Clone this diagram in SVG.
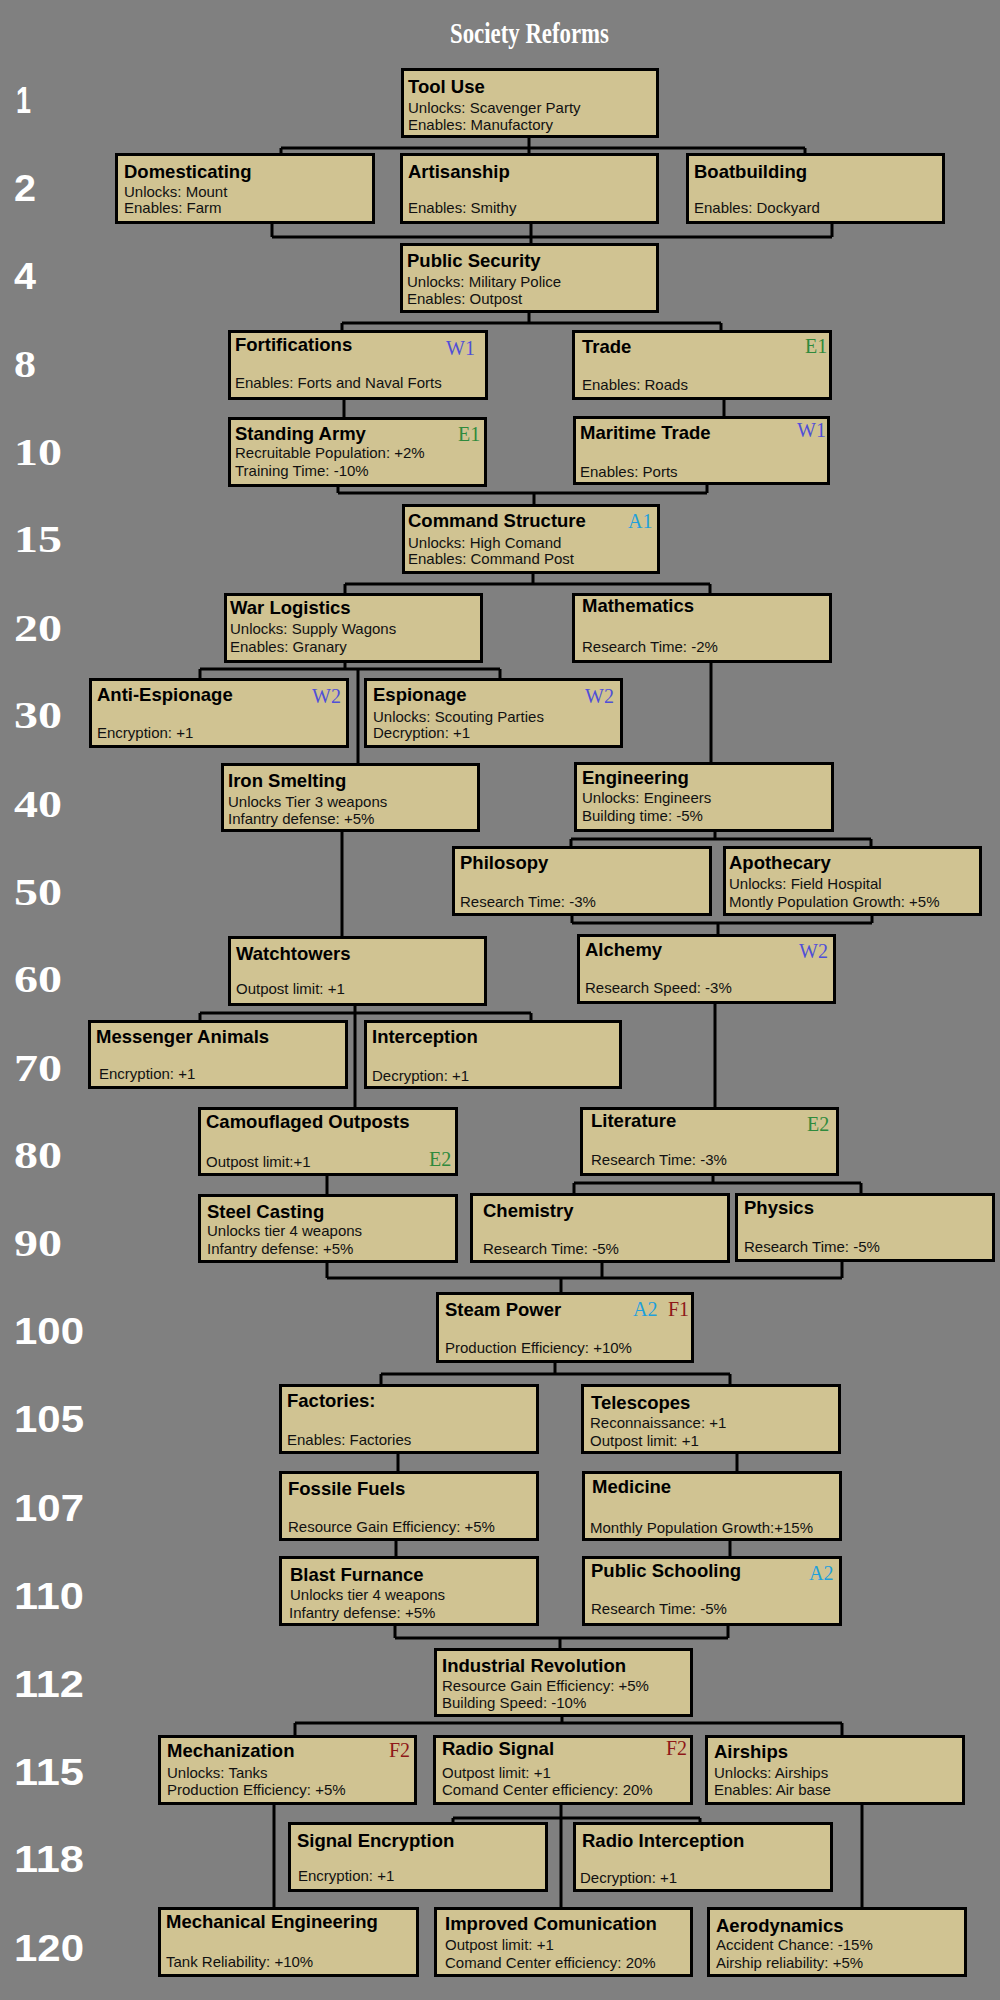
<svg xmlns="http://www.w3.org/2000/svg" width="1000" height="2000" viewBox="0 0 1000 2000">
<style>
.bg{fill:#808080}
.box{fill:#D0C392;stroke:#000;stroke-width:3}
.c{fill:none;stroke:#000;stroke-width:3}
.t{font-family:"Liberation Sans",Arial,sans-serif;font-weight:bold;font-size:18.5px;fill:#000}
.s{font-family:"Liberation Sans",Arial,sans-serif;font-size:15px;fill:#111}
.tag{font-family:"Liberation Serif","Times New Roman",serif;font-size:20px}
.w{fill:#4F4FD8}.e{fill:#2F8A3C}.a{fill:#1FA0DC}.f{fill:#8E1818}
.nS{font-family:"Liberation Serif",serif;font-weight:bold;font-size:37px;fill:#fff}
.nA{font-family:"Liberation Sans",sans-serif;font-weight:bold;font-size:36px;fill:#fff}
.title{font-family:"Liberation Serif",serif;font-weight:bold;font-size:30px;fill:#fff}
</style>
<rect class="bg" x="0" y="0" width="1000" height="2000"/>
<text class="title" x="450" y="43" textLength="159" lengthAdjust="spacingAndGlyphs">Society Reforms</text>
<g id="levels">
<text class="nA" x="16" y="113" textLength="15" lengthAdjust="spacingAndGlyphs">1</text>
<text class="nA" x="14" y="201" textLength="22" lengthAdjust="spacingAndGlyphs">2</text>
<text class="nA" x="14" y="289" textLength="22" lengthAdjust="spacingAndGlyphs">4</text>
<text class="nS" x="14" y="377" textLength="22" lengthAdjust="spacingAndGlyphs">8</text>
<text class="nS" x="14" y="465" textLength="48" lengthAdjust="spacingAndGlyphs">10</text>
<text class="nS" x="14" y="552" textLength="48" lengthAdjust="spacingAndGlyphs">15</text>
<text class="nS" x="14" y="641" textLength="48" lengthAdjust="spacingAndGlyphs">20</text>
<text class="nS" x="14" y="728" textLength="48" lengthAdjust="spacingAndGlyphs">30</text>
<text class="nS" x="14" y="817" textLength="48" lengthAdjust="spacingAndGlyphs">40</text>
<text class="nS" x="14" y="905" textLength="48" lengthAdjust="spacingAndGlyphs">50</text>
<text class="nS" x="14" y="992" textLength="48" lengthAdjust="spacingAndGlyphs">60</text>
<text class="nS" x="14" y="1081" textLength="48" lengthAdjust="spacingAndGlyphs">70</text>
<text class="nS" x="14" y="1168" textLength="48" lengthAdjust="spacingAndGlyphs">80</text>
<text class="nS" x="14" y="1256" textLength="48" lengthAdjust="spacingAndGlyphs">90</text>
<text class="nA" x="14" y="1344" textLength="70" lengthAdjust="spacingAndGlyphs">100</text>
<text class="nA" x="14" y="1432" textLength="70" lengthAdjust="spacingAndGlyphs">105</text>
<text class="nA" x="14" y="1521" textLength="70" lengthAdjust="spacingAndGlyphs">107</text>
<text class="nA" x="14" y="1609" textLength="70" lengthAdjust="spacingAndGlyphs">110</text>
<text class="nA" x="14" y="1697" textLength="70" lengthAdjust="spacingAndGlyphs">112</text>
<text class="nA" x="14" y="1785" textLength="70" lengthAdjust="spacingAndGlyphs">115</text>
<text class="nA" x="14" y="1872" textLength="70" lengthAdjust="spacingAndGlyphs">118</text>
<text class="nA" x="14" y="1961" textLength="70" lengthAdjust="spacingAndGlyphs">120</text>
</g>
<g id="connectors">
<path class="c" d="M529,138V153M281,148H805M281,148V153M805,148V153"/>
<path class="c" d="M272,224V237M832,224V237M272,237H832M531,224V243"/>
<path class="c" d="M529,313V323M342,323H721M342,323V330M721,323V330"/>
<path class="c" d="M344,400V417M724,400V417"/>
<path class="c" d="M338,487V493M707,485V493M338,493H707M534,493V504"/>
<path class="c" d="M533,574V584M345,584H710M345,584V593M710,584V593"/>
<path class="c" d="M345,663V669M200,669H500M200,669V678M500,669V678M358,669V763"/>
<path class="c" d="M711,663V762"/>
<path class="c" d="M342,832V936"/>
<path class="c" d="M715,832V839M571,839H871M571,839V846M871,839V846"/>
<path class="c" d="M572,916V923M872,916V923M572,923H872M718,923V934"/>
<path class="c" d="M355,1006V1107M200,1013H531M200,1013V1020M531,1013V1020"/>
<path class="c" d="M715,1004V1107"/>
<path class="c" d="M327,1176V1194"/>
<path class="c" d="M713,1176V1183M574,1183H861M574,1183V1193M861,1183V1193"/>
<path class="c" d="M327,1263V1278M602,1263V1278M842,1262V1278M327,1278H842M561,1278V1292"/>
<path class="c" d="M555,1363V1374M381,1374H730M381,1374V1384M730,1374V1384"/>
<path class="c" d="M398,1454V1471M737,1454V1471"/>
<path class="c" d="M396,1541V1556M730,1541V1556"/>
<path class="c" d="M395,1626V1638M728,1626V1638M395,1638H728M560,1638V1648"/>
<path class="c" d="M562,1717V1723M295,1723H842M295,1723V1735M842,1723V1735"/>
<path class="c" d="M274,1805V1907"/>
<path class="c" d="M561,1805V1907M453,1818H700M453,1818V1822M700,1818V1822"/>
<path class="c" d="M862,1805V1907"/>
</g>
<g id="tooluse"><rect class="box" x="402.5" y="69.5" width="255" height="67"/>
<text class="t" x="408" y="93">Tool Use</text><text class="s" x="408" y="113">Unlocks: Scavenger Party</text><text class="s" x="408" y="129.5">Enables: Manufactory</text></g>
<g id="domesticating"><rect class="box" x="116.5" y="154.5" width="257" height="68"/>
<text class="t" x="124" y="178">Domesticating</text><text class="s" x="124" y="197">Unlocks: Mount</text><text class="s" x="124" y="213">Enables: Farm</text></g>
<g id="artisanship"><rect class="box" x="401.5" y="154.5" width="256" height="68"/>
<text class="t" x="408" y="178">Artisanship</text><text class="s" x="408" y="213">Enables: Smithy</text></g>
<g id="boatbuilding"><rect class="box" x="687.5" y="154.5" width="256" height="68"/>
<text class="t" x="694" y="178">Boatbuilding</text><text class="s" x="694" y="213">Enables: Dockyard</text></g>
<g id="publicsecurity"><rect class="box" x="401.5" y="244.5" width="256" height="67"/>
<text class="t" x="407" y="267">Public Security</text><text class="s" x="407" y="287">Unlocks: Military Police</text><text class="s" x="407" y="304">Enables: Outpost</text></g>
<g id="fortifications"><rect class="box" x="229.5" y="331.5" width="257" height="67"/>
<text class="t" x="235" y="351">Fortifications</text><text class="tag w" x="446" y="355">W1</text><text class="s" x="235" y="388">Enables: Forts and Naval Forts</text></g>
<g id="trade"><rect class="box" x="573.5" y="331.5" width="257" height="67"/>
<text class="t" x="582" y="353">Trade</text><text class="tag e" x="805" y="353">E1</text><text class="s" x="582" y="390">Enables: Roads</text></g>
<g id="standingarmy"><rect class="box" x="229.5" y="418.5" width="256" height="67"/>
<text class="t" x="235" y="440">Standing Army</text><text class="tag e" x="458" y="441">E1</text><text class="s" x="235" y="458">Recruitable Population: +2%</text><text class="s" x="235" y="476">Training Time: -10%</text></g>
<g id="maritimetrade"><rect class="box" x="574.5" y="417.5" width="254" height="66"/>
<text class="t" x="580" y="439">Maritime Trade</text><text class="tag w" x="797" y="437">W1</text><text class="s" x="580" y="477">Enables: Ports</text></g>
<g id="commandstructure"><rect class="box" x="403.5" y="505.5" width="255" height="67"/>
<text class="t" x="408" y="527">Command Structure</text><text class="tag a" x="628" y="528">A1</text><text class="s" x="408" y="548">Unlocks: High Comand</text><text class="s" x="408" y="564">Enables: Command Post</text></g>
<g id="warlogistics"><rect class="box" x="225.5" y="594.5" width="256" height="67"/>
<text class="t" x="230" y="614">War Logistics</text><text class="s" x="230" y="634">Unlocks: Supply Wagons</text><text class="s" x="230" y="652">Enables: Granary</text></g>
<g id="mathematics"><rect class="box" x="573.5" y="594.5" width="257" height="67"/>
<text class="t" x="582" y="612">Mathematics</text><text class="s" x="582" y="652">Research Time: -2%</text></g>
<g id="antiespionage"><rect class="box" x="90.5" y="679.5" width="257" height="67"/>
<text class="t" x="97" y="701">Anti-Espionage</text><text class="tag w" x="312" y="703">W2</text><text class="s" x="97" y="738">Encryption: +1</text></g>
<g id="espionage"><rect class="box" x="365.5" y="679.5" width="256" height="67"/>
<text class="t" x="373" y="701">Espionage</text><text class="tag w" x="585" y="703">W2</text><text class="s" x="373" y="722">Unlocks: Scouting Parties</text><text class="s" x="373" y="738">Decryption: +1</text></g>
<g id="ironsmelting"><rect class="box" x="222.5" y="764.5" width="256" height="66"/>
<text class="t" x="228" y="787">Iron Smelting</text><text class="s" x="228" y="807">Unlocks Tier 3 weapons</text><text class="s" x="228" y="824">Infantry defense: +5%</text></g>
<g id="engineering"><rect class="box" x="575.5" y="763.5" width="257" height="67"/>
<text class="t" x="582" y="784">Engineering</text><text class="s" x="582" y="803">Unlocks: Engineers</text><text class="s" x="582" y="821">Building time: -5%</text></g>
<g id="philosopy"><rect class="box" x="453.5" y="847.5" width="257" height="67"/>
<text class="t" x="460" y="869">Philosopy</text><text class="s" x="460" y="907">Research Time: -3%</text></g>
<g id="apothecary"><rect class="box" x="724.5" y="847.5" width="256" height="67"/>
<text class="t" x="729" y="869">Apothecary</text><text class="s" x="729" y="889">Unlocks: Field Hospital</text><text class="s" x="729" y="907">Montly Population Growth: +5%</text></g>
<g id="watchtowers"><rect class="box" x="229.5" y="937.5" width="256" height="67"/>
<text class="t" x="236" y="960">Watchtowers</text><text class="s" x="236" y="994">Outpost limit: +1</text></g>
<g id="alchemy"><rect class="box" x="578.5" y="935.5" width="256" height="67"/>
<text class="t" x="585" y="956">Alchemy</text><text class="tag w" x="799" y="958">W2</text><text class="s" x="585" y="993">Research Speed: -3%</text></g>
<g id="messengeranimals"><rect class="box" x="89.5" y="1021.5" width="257" height="66"/>
<text class="t" x="96" y="1043">Messenger Animals</text><text class="s" x="99" y="1079">Encryption: +1</text></g>
<g id="interception"><rect class="box" x="365.5" y="1021.5" width="255" height="66"/>
<text class="t" x="372" y="1043">Interception</text><text class="s" x="372" y="1081">Decryption: +1</text></g>
<g id="camouflagedoutposts"><rect class="box" x="199.5" y="1108.5" width="257" height="66"/>
<text class="t" x="206" y="1128">Camouflaged Outposts</text><text class="tag e" x="429" y="1166">E2</text><text class="s" x="206" y="1167">Outpost limit:+1</text></g>
<g id="literature"><rect class="box" x="581.5" y="1108.5" width="256" height="66"/>
<text class="t" x="591" y="1127">Literature</text><text class="tag e" x="807" y="1131">E2</text><text class="s" x="591" y="1165">Research Time: -3%</text></g>
<g id="steelcasting"><rect class="box" x="199.5" y="1195.5" width="257" height="66"/>
<text class="t" x="207" y="1218">Steel Casting</text><text class="s" x="207" y="1236">Unlocks tier 4 weapons</text><text class="s" x="207" y="1254">Infantry defense: +5%</text></g>
<g id="chemistry"><rect class="box" x="471.5" y="1194.5" width="257" height="67"/>
<text class="t" x="483" y="1217">Chemistry</text><text class="s" x="483" y="1254">Research Time: -5%</text></g>
<g id="physics"><rect class="box" x="736.5" y="1194.5" width="257" height="66"/>
<text class="t" x="744" y="1214">Physics</text><text class="s" x="744" y="1252">Research Time: -5%</text></g>
<g id="steampower"><rect class="box" x="437.5" y="1293.5" width="255" height="68"/>
<text class="t" x="445" y="1316">Steam Power</text><text class="tag a" x="633" y="1316">A2</text><text class="tag f" x="668" y="1316">F1</text><text class="s" x="445" y="1353">Production Efficiency: +10%</text></g>
<g id="factories"><rect class="box" x="280.5" y="1385.5" width="257" height="67"/>
<text class="t" x="287" y="1407">Factories:</text><text class="s" x="287" y="1445">Enables: Factories</text></g>
<g id="telescopes"><rect class="box" x="582.5" y="1385.5" width="257" height="67"/>
<text class="t" x="591" y="1409">Telescopes</text><text class="s" x="590" y="1428">Reconnaissance: +1</text><text class="s" x="590" y="1446">Outpost limit: +1</text></g>
<g id="fossilefuels"><rect class="box" x="280.5" y="1472.5" width="257" height="67"/>
<text class="t" x="288" y="1495">Fossile Fuels</text><text class="s" x="288" y="1532">Resource Gain Efficiency: +5%</text></g>
<g id="medicine"><rect class="box" x="583.5" y="1472.5" width="257" height="67"/>
<text class="t" x="592" y="1493">Medicine</text><text class="s" x="590" y="1533">Monthly Population Growth:+15%</text></g>
<g id="blastfurnance"><rect class="box" x="280.5" y="1557.5" width="257" height="67"/>
<text class="t" x="290" y="1581">Blast Furnance</text><text class="s" x="290" y="1600">Unlocks tier 4 weapons</text><text class="s" x="289" y="1618">Infantry defense: +5%</text></g>
<g id="publicschooling"><rect class="box" x="583.5" y="1557.5" width="257" height="67"/>
<text class="t" x="591" y="1577">Public Schooling</text><text class="tag a" x="809" y="1580">A2</text><text class="s" x="591" y="1614">Research Time: -5%</text></g>
<g id="industrialrevolution"><rect class="box" x="435.5" y="1649.5" width="256" height="66"/>
<text class="t" x="442" y="1672">Industrial Revolution</text><text class="s" x="442" y="1691">Resource Gain Efficiency: +5%</text><text class="s" x="442" y="1708">Building Speed: -10%</text></g>
<g id="mechanization"><rect class="box" x="159.5" y="1736.5" width="256" height="67"/>
<text class="t" x="167" y="1757">Mechanization</text><text class="tag f" x="389" y="1757">F2</text><text class="s" x="167" y="1778">Unlocks: Tanks</text><text class="s" x="167" y="1795">Production Efficiency: +5%</text></g>
<g id="radiosignal"><rect class="box" x="434.5" y="1736.5" width="257" height="67"/>
<text class="t" x="442" y="1755">Radio Signal</text><text class="tag f" x="666" y="1755">F2</text><text class="s" x="442" y="1778">Outpost limit: +1</text><text class="s" x="442" y="1795">Comand Center efficiency: 20%</text></g>
<g id="airships"><rect class="box" x="706.5" y="1736.5" width="257" height="67"/>
<text class="t" x="714" y="1758">Airships</text><text class="s" x="714" y="1778">Unlocks: Airships</text><text class="s" x="714" y="1795">Enables: Air base</text></g>
<g id="signalencryption"><rect class="box" x="289.5" y="1823.5" width="257" height="67"/>
<text class="t" x="297" y="1847">Signal Encryption</text><text class="s" x="298" y="1881">Encryption: +1</text></g>
<g id="radiointerception"><rect class="box" x="574.5" y="1823.5" width="257" height="67"/>
<text class="t" x="582" y="1847">Radio Interception</text><text class="s" x="580" y="1883">Decryption: +1</text></g>
<g id="mechanicalengineering"><rect class="box" x="159.5" y="1908.5" width="258" height="67"/>
<text class="t" x="166" y="1928">Mechanical Engineering</text><text class="s" x="166" y="1967">Tank Reliability: +10%</text></g>
<g id="improvedcomunication"><rect class="box" x="435.5" y="1908.5" width="256" height="67"/>
<text class="t" x="445" y="1930">Improved Comunication</text><text class="s" x="445" y="1950">Outpost limit: +1</text><text class="s" x="445" y="1968">Comand Center efficiency: 20%</text></g>
<g id="aerodynamics"><rect class="box" x="708.5" y="1908.5" width="257" height="67"/>
<text class="t" x="716" y="1932">Aerodynamics</text><text class="s" x="716" y="1950">Accident Chance: -15%</text><text class="s" x="716" y="1968">Airship reliability: +5%</text></g>
</svg>
